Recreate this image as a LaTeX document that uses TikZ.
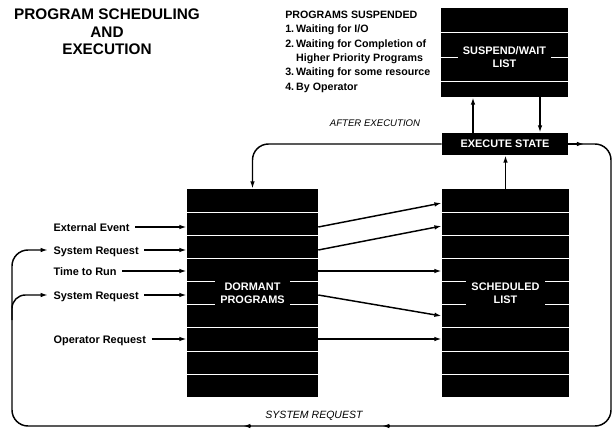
\documentclass[tikz,border=0pt]{standalone}
\usepackage{fontspec}
\setmainfont{Liberation Sans}
\usetikzlibrary{arrows.meta,calc}

\tikzset{
	list/.style={fill=black, inner sep=0pt},
	stripe/.style={draw=white, line width=0.6pt},
	listtext/.style={fill=black, text=white, font=\fontsize{8.2}{9.8}\selectfont\bfseries, align=center, inner xsep=4pt, inner ysep=2pt},
	flow/.style={line width=1.1pt, -{Latex[length=5.5pt,width=3.4pt]}},
	inlabel/.style={font=\fontsize{8.2}{10}\selectfont\bfseries, anchor=west, inner xsep=4pt, inner ysep=1pt, text height=6pt, text depth=0pt},
	note/.style={font=\fontsize{7.2}{9}\selectfont\itshape}
}

\begin{document}
\begin{tikzpicture}[x=0.75pt, y=-0.75pt]
	%%%%% START %%%%%
	\useasboundingbox (0,0) rectangle (613,428);
	
	\node[font=\fontsize{11.5}{13.1}\selectfont\bfseries, align=center] (title) at (107,32) {PROGRAM SCHEDULING\\AND\\EXECUTION};
	
	\node[anchor=north west, inner sep=0pt, font=\fontsize{8}{10.8}\selectfont\bfseries] (why) at (285,8) {%
		\begin{tabular}{@{}l@{\hspace{1.5pt}}l@{}}
			\multicolumn{2}{@{}l@{}}{PROGRAMS SUSPENDED}\\
			1. & Waiting for I/O\\
			2. & Waiting for Completion of\\
			& Higher Priority Programs\\
			3. & Waiting for some resource\\
			4. & By Operator
		\end{tabular}};
	
	% suspend / wait list
	\node[list, minimum width=95.25pt, minimum height=66.75pt] (susp) at (504.5,52.5) {};
	\foreach \y in {32,57,81}
		\draw[stripe] (susp.west |- 0,\y) -- (susp.east |- 0,\y);
	\node[listtext] (susptxt) at (504.5,57) {SUSPEND/WAIT\\LIST};
	
	% execute state
	\node[list, minimum width=94.5pt, minimum height=16.5pt, text=white, font=\fontsize{8.2}{9.8}\selectfont\bfseries] (exec) at (505,144) {EXECUTE STATE};
	
	% dormant programs
	\node[list, minimum width=98.25pt, minimum height=156pt] (dorm) at (252.5,293) {};
	\foreach \i in {1,...,8}
		\draw[stripe] ($(dorm.north west)!\i/9!(dorm.south west)$) -- ($(dorm.north east)!\i/9!(dorm.south east)$);
	\node[listtext] (dormtxt) at (dorm) {DORMANT\\PROGRAMS};
	
	% scheduled list
	\node[list, minimum width=95.25pt, minimum height=156pt] (sched) at (505.5,293) {};
	\foreach \i in {1,...,8}
		\draw[stripe] ($(sched.north west)!\i/9!(sched.south west)$) -- ($(sched.north east)!\i/9!(sched.south east)$);
	\node[listtext] (schedtxt) at (sched) {SCHEDULED\\LIST};
	
	% inputs
	\node[inlabel] (ext) at (48,227) {External Event};
	\node[inlabel] (sys1) at (48,250) {System Request};
	\node[inlabel] (run) at (48,271) {Time to Run};
	\node[inlabel] (sys2) at (48,295) {System Request};
	\node[inlabel] (oper) at (48,339) {Operator Request};
	\foreach \n in {ext,sys1,run,sys2,oper}
		\draw[flow] (\n.east) -- (\n -| dorm.west);
	
	% dormant -> scheduled
	\draw[flow] (ext -| dorm.east) -- (sched.west |- 0,203);
	\draw[flow] (sys1 -| dorm.east) -- (sched.west |- 0,226);
	\draw[flow] (run -| dorm.east) -- (run -| sched.west);
	\draw[flow] (sys2 -| dorm.east) -- (sched.west |- 0,316);
	\draw[flow] (oper -| dorm.east) -- (oper -| sched.west);
	
	% execution
	\draw[flow] (sched.north) -- (sched.north |- exec.south);
	\draw[flow] (exec.north -| 473,0) -- (susp.south -| 473,0);
	\draw[flow] (susp.south -| 540,0) -- (exec.north -| 540,0);
	\draw[flow, rounded corners=12] (exec.west) -| (dorm.north);
	\node[note] (aftertxt) at (375,123) {AFTER EXECUTION};
	
	% system request loop
	\draw[flow, rounded corners=12] (exec.east) -- (611,144) -- (611,426) -- (12,426) -- (12,250) -- (sys1.west);
	\draw[flow] (exec.east) -- ++(16,0);
	\draw[flow, rounded corners=10] (12,320) -- (12,295) -- (sys2.west);
	\draw[flow] (251,426) -- (243,426);
	\draw[flow] (390,426) -- (382,426);
	\node[note, font=\fontsize{7.9}{9}\selectfont\itshape] (sysreqtxt) at (314,416) {SYSTEM REQUEST};
	%%%%% END %%%%%
\end{tikzpicture}
\end{document}
